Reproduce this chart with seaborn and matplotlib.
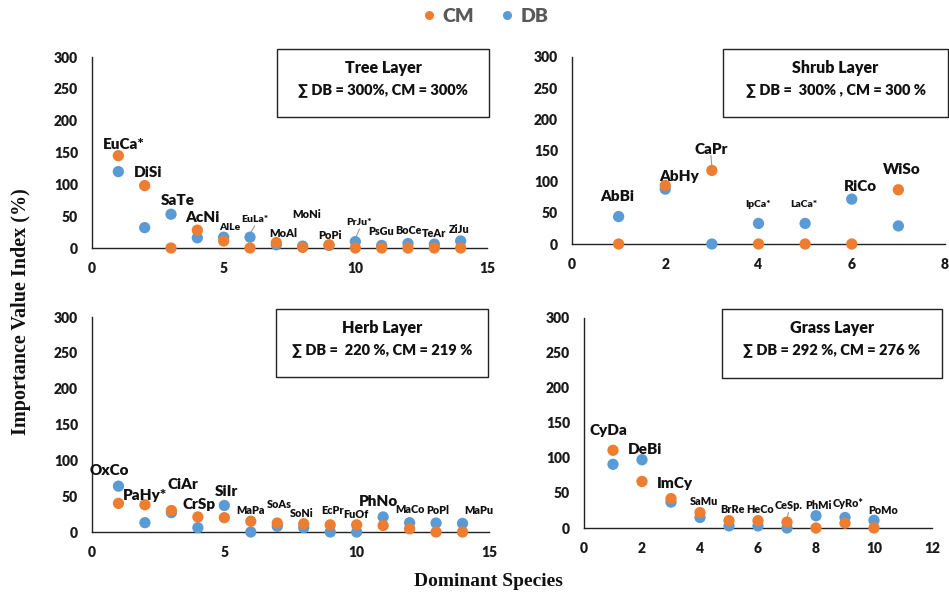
import matplotlib
matplotlib.use("Agg")
import matplotlib.pyplot as plt
from matplotlib.lines import Line2D
from matplotlib.patches import Rectangle
import seaborn as sns
import pandas as pd

sns.set_theme(style="white")
plt.rcParams['font.family'] = ['Lato', 'DejaVu Sans']

CM_COLOR = "#ED7D31"
DB_COLOR = "#5B9BD5"

# ---------------- data ----------------
tree_species = ["EuCa*", "DiSi", "SaTe", "AcNi", "AlLe", "EuLa*", "MoAl", "MoNi",
                "PoPi", "PrJu*", "PsGu", "BoCe", "TeAr", "ZiJu"]
tree_db = [120, 32, 53, 16, 17, 17, 5, 3, 4, 10, 4, 7, 6, 11]
tree_cm = [145, 98, 0, 28, 11, 0, 8.5, 1, 5, 0, 0, 0, 0, 0]

shrub_species = ["AbBi", "AbHy", "CaPr", "IpCa*", "LaCa*", "RiCo", "WiSo"]
shrub_db = [44, 88, 0, 33, 33, 72, 29]
shrub_cm = [0, 94, 118, 0, 0, 0, 87]

herb_species = ["OxCo", "PaHy*", "CiAr", "CrSp", "SiIr", "MaPa", "SoAs", "SoNi",
                "EcPr", "FuOf", "PhNo", "MaCo", "PoPl", "MaPu"]
herb_db = [64, 13, 27, 6, 37, 0, 8, 6, 0, 0, 21, 13, 12.5, 12]
herb_cm = [40, 38, 30, 21, 20, 15, 12.5, 11.5, 10, 10, 9, 4.5, 0, 0]

grass_species = ["CyDa", "DeBi", "ImCy", "SaMu", "BrRe", "HeCo", "CeSp.", "PhMi",
                 "CyRo*", "PoMo"]
grass_db = [91, 97.5, 37, 15, 3, 3, 0, 17.5, 15, 11]
grass_cm = [111, 66.5, 42, 22, 10.5, 10.5, 8.5, 0, 7, 0]

panel_titles = ["Tree Layer", "Shrub Layer", "Herb Layer", "Grass Layer"]
panel_sums = ["\u2211 DB = 300%, CM = 300%", "\u2211 DB =  300% , CM = 300 %",
              "\u2211 DB =  220 %, CM = 219 %", "\u2211 DB = 292 %, CM = 276 %"]

# ---------------- label placement (style/position) ----------------
tree_lbl_x = [1.22, 2.13, 3.24, 4.18, 5.22, 6.18, 7.25, 8.14, 9.03, 10.16, 10.99, 12.0, 13.0, 13.96]
tree_lbl_y = [163, 119, 74, 48, 32, 45, 23, 53, 20, 40, 26, 28, 23, 29]
tree_lbl_fs = [11, 11, 11, 11, 7.5, 7.5, 8, 8, 8, 7.5, 7.8, 7.8, 7.8, 7.8]
tree_leader = [5, 9]

shrub_lbl_x = [0.98, 2.3, 2.98, 3.99, 4.97, 6.18, 7.07]
shrub_lbl_y = [77, 108, 152, 63, 63, 92, 120]
shrub_lbl_fs = [11, 11, 11, 7.5, 7.5, 11, 11]
shrub_leader = [2]

herb_lbl_x = [0.67, 1.99, 3.42, 4.06, 5.09, 6.0, 7.08, 7.92, 9.09, 9.97, 10.82, 12.0, 13.06, 14.6]
herb_lbl_y = [86, 51, 66, 39, 57, 30, 38.5, 26, 30, 25, 42, 32, 30, 30]
herb_lbl_fs = [11, 11, 11, 11, 11, 7.8, 7.8, 7.8, 7.8, 7.8, 11, 7.8, 7.8, 7.8]
herb_leader = []

grass_lbl_x = [0.85, 2.12, 3.13, 4.14, 5.13, 6.07, 7.05, 8.09, 9.12, 10.3]
grass_lbl_y = [139, 112, 63, 38, 27, 27, 32, 32, 35, 25]
grass_lbl_fs = [11, 11, 11, 7.8, 7.8, 7.8, 7.8, 7.8, 7.8, 7.8]
grass_leader = [6]

W, H = 949, 595
fig = plt.figure(figsize=(W / 100, H / 100), dpi=100)


def px_axes(left, right, top, bottom):
    return fig.add_axes([left / W, 1 - bottom / H, (right - left) / W, (bottom - top) / H])


panels = [
    dict(rect=(92, 487, 57, 248), xmax=15, xticks=[0, 5, 10, 15],
         sp=tree_species, db=tree_db, cm=tree_cm,
         lx=tree_lbl_x, ly=tree_lbl_y, fs=tree_lbl_fs, lead=tree_leader,
         box=(277, 489, 49, 117)),
    dict(rect=(572, 945, 57, 244), xmax=8, xticks=[0, 2, 4, 6, 8],
         sp=shrub_species, db=shrub_db, cm=shrub_cm,
         lx=shrub_lbl_x, ly=shrub_lbl_y, fs=shrub_lbl_fs, lead=shrub_leader,
         box=(723, 948, 49, 117)),
    dict(rect=(92, 489, 317, 532), xmax=15, xticks=[0, 5, 10, 15],
         sp=herb_species, db=herb_db, cm=herb_cm,
         lx=herb_lbl_x, ly=herb_lbl_y, fs=herb_lbl_fs, lead=herb_leader,
         box=(276, 488, 309, 377)),
    dict(rect=(584, 932, 318, 528), xmax=12, xticks=[0, 2, 4, 6, 8, 10, 12],
         sp=grass_species, db=grass_db, cm=grass_cm,
         lx=grass_lbl_x, ly=grass_lbl_y, fs=grass_lbl_fs, lead=grass_leader,
         box=(722, 942, 309, 378)),
]

for i, p in enumerate(panels):
    l, r, t, b = p["rect"]
    ax = px_axes(l, r, t, b)
    n = len(p["sp"])
    xs = list(range(1, n + 1))
    df = pd.DataFrame({
        "x": xs + xs,
        "value": p["db"] + p["cm"],
        "series": ["DB"] * n + ["CM"] * n,
    })
    sns.scatterplot(data=df, x="x", y="value", hue="series",
                    palette={"DB": DB_COLOR, "CM": CM_COLOR},
                    s=66, linewidth=0, legend=False, ax=ax, clip_on=False, zorder=3)
    ax.set_xlim(0, p["xmax"])
    ax.set_ylim(0, 300)
    ax.set_xticks(p["xticks"])
    ax.set_yticks(range(0, 301, 50))
    ax.set_xlabel("")
    ax.set_ylabel("")
    ax.tick_params(length=0, labelsize=10, colors="#1a1a1a")
    ax.tick_params(axis="y", pad=10)
    ax.tick_params(axis="x", pad=10)
    for lab in ax.get_xticklabels() + ax.get_yticklabels():
        lab.set_fontweight("heavy")
    for s in ["top", "right"]:
        ax.spines[s].set_visible(False)
    for s in ["left", "bottom"]:
        ax.spines[s].set_color("#222222")
        ax.spines[s].set_linewidth(1.0)
    ax.patch.set_alpha(0)

    # species labels
    for j, name in enumerate(p["sp"]):
        ax.text(p["lx"][j], p["ly"][j], name, ha="center", va="center",
                fontsize=p["fs"][j], fontweight="heavy", color="#111111",
                clip_on=False, zorder=4)
    for j in p["lead"]:
        top_val = max(p["db"][j], p["cm"][j])
        ax.plot([p["lx"][j], j + 1], [p["ly"][j] - 10, top_val + 5],
                color="#999999", lw=0.8, zorder=2, clip_on=False)

    # info box
    bl, br, bt, bb = p["box"]
    fig.patches.append(Rectangle((bl / W, 1 - bb / H), (br - bl) / W, (bb - bt) / H,
                                 transform=fig.transFigure, fill=False,
                                 edgecolor="#222222", linewidth=1.0))
    cx = (bl + br) / 2 / W
    fig.text(cx, 1 - (bt + 19) / H, panel_titles[i], ha="center", va="center",
             fontsize=11.5, fontweight="heavy", color="#111111")
    fig.text(cx, 1 - (bt + 41) / H, panel_sums[i], ha="center", va="center",
             fontsize=10.5, fontweight="heavy", color="#111111",
             family=['Lato', 'DejaVu Sans'])

# axis titles
fig.text(21 / W, 1 - 312 / H, "Importance Value Index (%)", rotation=90,
         ha="center", va="center", fontsize=14.5, fontweight="bold",
         family="Liberation Serif", color="#111111")
fig.text(488 / W, 1 - 582 / H, "Dominant Species", ha="center", va="center",
         fontsize=14, fontweight="bold", family="Liberation Serif", color="#111111")

# legend
handles = [Line2D([], [], marker="o", linestyle="none", markersize=6.5,
                  markerfacecolor=CM_COLOR, markeredgewidth=0),
           Line2D([], [], marker="o", linestyle="none", markersize=6.5,
                  markerfacecolor=DB_COLOR, markeredgewidth=0)]
leg = fig.legend(handles, ["CM", "DB"], loc="center", bbox_to_anchor=(484 / W, 1 - 16 / H),
                 ncol=2, frameon=False, handletextpad=0.2, columnspacing=1.2,
                 handlelength=1.0, prop={"weight": "heavy", "size": 14})
for txt in leg.get_texts():
    txt.set_color("#595959")

fig.savefig("out.png", dpi=100)
